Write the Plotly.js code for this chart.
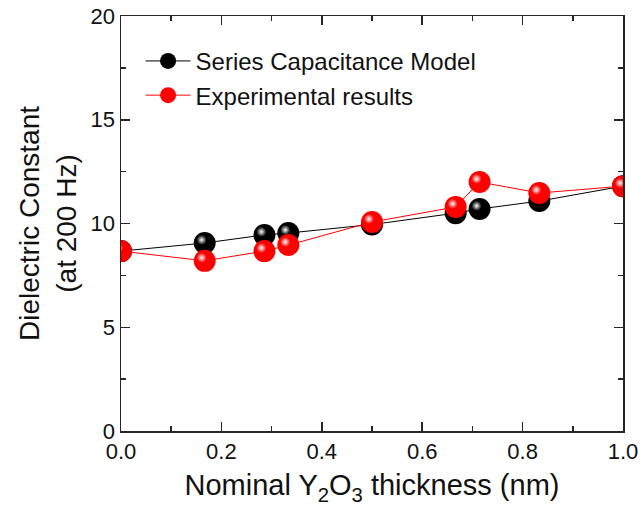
<!DOCTYPE html>
<html>
<head>
<meta charset="utf-8">
<script src="https://cdn.plot.ly/plotly-3.0.1.min.js"></script>
<style>html,body{margin:0;padding:0;background:#fff;}#chart{width:641px;height:512px;}</style>
</head>
<body>
<div id="chart"></div>
<script>
// Nominal Y2O3 thickness (nm)
const thickness = [0, 0.1667, 0.2857, 0.3333, 0.5, 0.6667, 0.7143, 0.8333, 1.0];
// Dielectric constant (at 200 Hz)
const seriesModel = [8.67, 9.06, 9.45, 9.54, 9.95, 10.5, 10.7, 11.08, 11.8];
const experimental = [8.67, 8.2, 8.67, 8.96, 10.07, 10.8, 12.0, 11.47, 11.8];
const seriesNames = ['Series Capacitance Model', 'Experimental results'];

const FONT = 'Arial, "Liberation Sans", sans-serif';
const axisColor = '#262626';
const dxShift = 0.006;   // highlight offset (x units ~3px)
const dyShift = 0.15;    // highlight offset (y units ~3px)

function base(y, color, name, xa, ya) {
  return {
    x: thickness, y: y, name: name, xaxis: xa, yaxis: ya,
    type: 'scatter', mode: 'lines+markers',
    line: {color: color, width: 1},
    marker: {color: color, size: 22, line: {width: 0}}
  };
}
function shine(y, color, xa, ya) {
  return {
    x: thickness, y: y, xaxis: xa, yaxis: ya, showlegend: false, hoverinfo: 'skip',
    type: 'scatter', mode: 'markers',
    marker: {color: color, size: 10, line: {width: 0}, gradient: {type: 'radial', color: '#ffffff'}}
  };
}

const traces = [
  base(seriesModel, '#000000', seriesNames[0], 'x', 'y'),
  shine(seriesModel, '#000000', 'x2', 'y2'),
  base(experimental, '#ff0000', seriesNames[1], 'x3', 'y3'),
  shine(experimental, '#ff0000', 'x4', 'y4')
];

const hidden = (range, ov) => ({overlaying: ov, range: range, visible: false, fixedrange: true});

const layout = {
  width: 641, height: 512,
  margin: {l: 121, r: 18, t: 16, b: 81},
  paper_bgcolor: '#ffffff', plot_bgcolor: '#ffffff',
  font: {family: FONT, color: '#111111'},
  showlegend: true,
  legend: {
    x: 0.039, y: 0.945, xanchor: 'left', yanchor: 'top',
    bgcolor: 'rgba(0,0,0,0)', borderwidth: 0,
    font: {family: FONT, size: 24, color: '#111111'},
    itemwidth: 45, tracegroupgap: 0
  },
  xaxis: {
    range: [0, 1], dtick: 0.2, tick0: 0, tickformat: '.1f',
    showgrid: false, zeroline: false,
    showline: true, linecolor: axisColor, linewidth: 1.5, mirror: 'ticks',
    ticks: 'inside', ticklen: 9, tickwidth: 1.5, tickcolor: axisColor,
    minor: {ticks: 'inside', dtick: 0.1, ticklen: 5, tickwidth: 1.5, tickcolor: axisColor, showgrid: false},
    tickfont: {family: FONT, size: 22, color: '#111111'},
    title: {text: 'Nominal Y<sub>2</sub>O<sub>3</sub> thickness (nm)', font: {family: FONT, size: 29, color: '#111111'}, standoff: 12}
  },
  yaxis: {
    range: [0, 20], dtick: 5, tick0: 0,
    showgrid: false, zeroline: false,
    showline: true, linecolor: axisColor, linewidth: 1.5, mirror: 'ticks',
    ticks: 'inside', ticklen: 9, tickwidth: 1.5, tickcolor: axisColor,
    minor: {ticks: 'inside', dtick: 2.5, ticklen: 5, tickwidth: 1.5, tickcolor: axisColor, showgrid: false},
    tickfont: {family: FONT, size: 22, color: '#111111'},
    title: {text: 'Dielectric Constant<br>(at 200 Hz)', font: {family: FONT, size: 28, color: '#111111'}, standoff: 6}
  },
  xaxis2: hidden([dxShift, 1 + dxShift], 'x'),
  yaxis2: hidden([-dyShift, 20 - dyShift], 'y'),
  xaxis3: hidden([0, 1], 'x'),
  yaxis3: hidden([0, 20], 'y'),
  xaxis4: hidden([dxShift, 1 + dxShift], 'x'),
  yaxis4: hidden([-dyShift, 20 - dyShift], 'y')
};

Plotly.newPlot('chart', traces, layout, {staticPlot: true, displayModeBar: false});
</script>
</body>
</html>
